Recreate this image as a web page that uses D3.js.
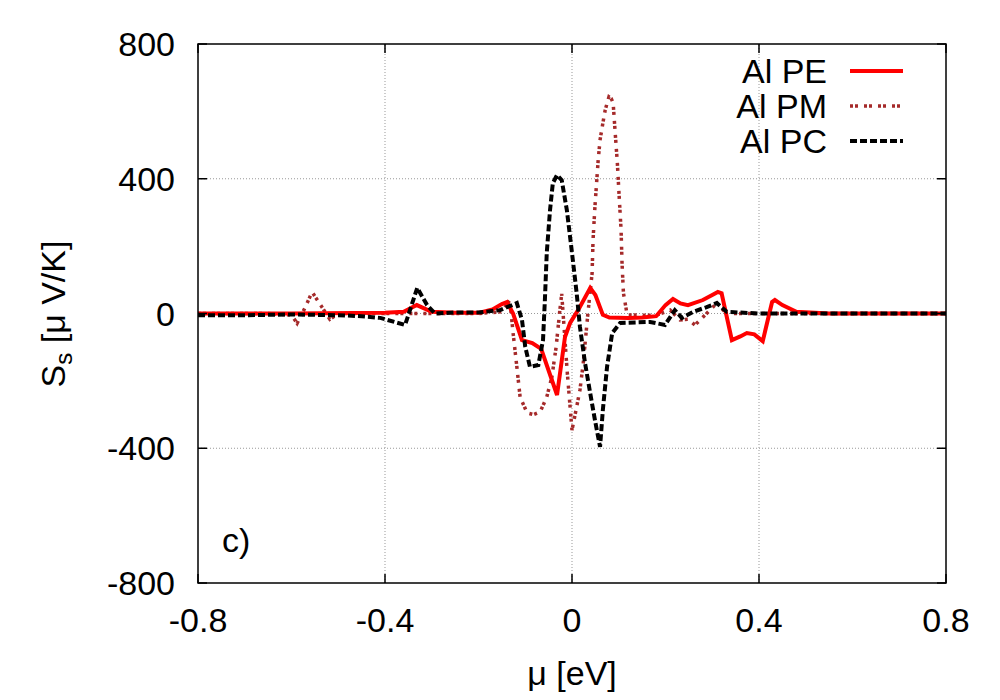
<!DOCTYPE html>
<html>
<head>
<meta charset="utf-8">
<script src="https://d3js.org/d3.v7.min.js"></script>
<style>
  body { margin: 0; background: #fff; }
  text { font-family: "Liberation Sans", Arial, sans-serif; fill: #000; }
</style>
</head>
<body>
<div id="chart"></div>
<script>
// tick values
const xTicks = [-0.8, -0.4, 0, 0.4, 0.8];
const yTicks = [-800, -400, 0, 400, 800];
const xTickLabels = ["-0.8", "-0.4", "0", "0.4", "0.8"];
const yTickLabels = ["-800", "-400", "0", "400", "800"];

// Al PE
const peMu = [-0.80, -0.60, -0.40, -0.36, -0.332, -0.30, -0.25, -0.20, -0.17, -0.15, -0.139, -0.126, -0.107, -0.085, -0.066,
  -0.032, -0.015, -0.004, 0.013, 0.025, 0.039, 0.05, 0.066, 0.08, 0.12, 0.15, 0.18, 0.20, 0.216, 0.232, 0.248, 0.28, 0.30,
  0.312, 0.32, 0.342, 0.36, 0.374, 0.39, 0.408, 0.428, 0.434, 0.45, 0.48, 0.55, 0.65, 0.80];
const peVal = [0, 0, 2, 5, 25, 5, 2, 2, 12, 28, 34, 0, -79, -88, -105,
  -242, -70, -28, 10, 40, 76, 55, -4, -12, -13, -12, -8, 25, 43, 30, 25, 40, 55,
  64, 60, -79, -68, -58, -62, -82, 34, 40, 25, 5, 0, 0, 0];

// Al PM
const pmMu = [-0.80, -0.65, -0.60, -0.588, -0.57, -0.556, -0.54, -0.518, -0.50, -0.45, -0.40, -0.30, -0.20, -0.15, -0.133,
  -0.126, -0.118, -0.111, -0.096, -0.082, -0.068, -0.054, -0.043, -0.034, -0.026, -0.022, -0.01, 0.0, 0.01, 0.017, 0.024,
  0.034, 0.043, 0.045, 0.049, 0.056, 0.060, 0.066, 0.071, 0.079, 0.084, 0.088, 0.092, 0.097, 0.101, 0.105, 0.107, 0.110,
  0.118, 0.15, 0.18, 0.21, 0.231, 0.248, 0.263, 0.288, 0.31, 0.33, 0.40, 0.60, 0.80];
const pmVal = [0, 0, -5, -29, 20, 64, 30, -17, 0, 0, 0, 0, 0, 5, 40,
  -58, -158, -248, -295, -300, -292, -248, -188, -100, 10, 58, -177, -346, -277, -227, -148,
  0, 120, 218, 316, 455, 515, 565, 604, 643, 638, 625, 544, 447, 345, 247, 150, 61,
  -4, -5, -5, 10, -19, -17, -34, 0, 31, 0, 0, 0, 0];

// Al PC
const pcMu = [-0.80, -0.70, -0.60, -0.50, -0.45, -0.41, -0.357, -0.331, -0.31, -0.293, -0.25, -0.20, -0.154, -0.118, -0.107,
  -0.10, -0.09, -0.072, -0.062, -0.058, -0.054, -0.047, -0.041, -0.032, -0.022, -0.011, 0.0, 0.01, 0.017, 0.028, 0.039,
  0.049, 0.06, 0.066, 0.075, 0.086, 0.103, 0.167, 0.199, 0.22, 0.235, 0.259, 0.288, 0.31, 0.331, 0.40, 0.60, 0.80];
const pcVal = [-5, -5, -3, -5, -8, -13, -34, 76, 25, 0, 3, 3, 10, 31, -19,
  -99, -158, -153, -79, 40, 180, 307, 387, 411, 396, 307, 180, 60, -40, -148, -237,
  -316, -396, -286, -158, -58, -28, -25, -34, 10, -13, 5, 19, 31, 5, 0, 0, 0];

const seriesNames = ["Al PE", "Al PM", "Al PC"];

const width = 1000, height = 700;
const margin = { left: 198, right: 54, top: 44, bottom: 117 };
const fontSize = 34;

const svg = d3.select("#chart").append("svg")
  .attr("width", width)
  .attr("height", height);

const x = d3.scaleLinear().domain([-0.8, 0.8]).range([margin.left, width - margin.right]);
const y = d3.scaleLinear().domain([-800, 800]).range([height - margin.bottom, margin.top]);

// grid
const grid = svg.append("g")
  .attr("stroke", "#999")
  .attr("stroke-width", 1)
  .attr("stroke-dasharray", "1,2");
grid.selectAll("line.gx").data(xTicks.slice(1, -1)).enter().append("line")
  .attr("x1", d => x(d)).attr("x2", d => x(d))
  .attr("y1", y(-800)).attr("y2", y(800));
grid.selectAll("line.gy").data(yTicks.slice(1, -1)).enter().append("line")
  .attr("x1", x(-0.8)).attr("x2", x(0.8))
  .attr("y1", d => y(d)).attr("y2", d => y(d));

// curves
svg.append("clipPath").attr("id", "clip").append("rect")
  .attr("x", x(-0.8)).attr("y", y(800))
  .attr("width", x(0.8) - x(-0.8)).attr("height", y(-800) - y(800));

const line = d3.line().x(d => x(d[0])).y(d => y(d[1]));

const series = [
  { name: seriesNames[0], data: d3.zip(peMu, peVal), color: "#ff0000", w: 4, dash: null },
  { name: seriesNames[1], data: d3.zip(pmMu, pmVal), color: "#a52a2a", w: 3.5, dash: "3,2,3,6" },
  { name: seriesNames[2], data: d3.zip(pcMu, pcVal), color: "#000000", w: 4, dash: "7,3" }
];

const plot = svg.append("g").attr("clip-path", "url(#clip)");
// draw order: PM under, then PE, then PC on top
[series[1], series[0], series[2]].forEach(s => {
  plot.append("path")
    .attr("d", line(s.data))
    .attr("fill", "none")
    .attr("stroke", s.color)
    .attr("stroke-width", s.w)
    .attr("stroke-dasharray", s.dash)
    .attr("stroke-linejoin", "miter");
});

// frame
svg.append("rect")
  .attr("x", x(-0.8)).attr("y", y(800))
  .attr("width", x(0.8) - x(-0.8)).attr("height", y(-800) - y(800))
  .attr("fill", "none").attr("stroke", "#000").attr("stroke-width", 1.5);

// ticks (inward, mirrored)
const tl = 9;
const ticks = svg.append("g").attr("stroke", "#000").attr("stroke-width", 1.5);
xTicks.forEach(t => {
  ticks.append("line").attr("x1", x(t)).attr("x2", x(t)).attr("y1", y(-800)).attr("y2", y(-800) - tl);
  ticks.append("line").attr("x1", x(t)).attr("x2", x(t)).attr("y1", y(800)).attr("y2", y(800) + tl);
});
yTicks.forEach(t => {
  ticks.append("line").attr("x1", x(-0.8)).attr("x2", x(-0.8) + tl).attr("y1", y(t)).attr("y2", y(t));
  ticks.append("line").attr("x1", x(0.8)).attr("x2", x(0.8) - tl).attr("y1", y(t)).attr("y2", y(t));
});

// tick labels
svg.selectAll("text.xt").data(xTicks).enter().append("text")
  .attr("x", d => x(d)).attr("y", 632)
  .attr("text-anchor", "middle")
  .style("font-size", fontSize + "px")
  .text((d, i) => xTickLabels[i]);
svg.selectAll("text.yt").data(yTicks).enter().append("text")
  .attr("x", 175).attr("y", d => y(d) + 12)
  .attr("text-anchor", "end")
  .style("font-size", fontSize + "px")
  .text((d, i) => yTickLabels[i]);

// axis labels
svg.append("text")
  .attr("x", x(0)).attr("y", 685)
  .attr("text-anchor", "middle")
  .style("font-size", fontSize + "px")
  .text("μ [eV]");

const yl = svg.append("text")
  .attr("transform", "translate(65," + 314 + ") rotate(-90)")
  .attr("text-anchor", "middle")
  .style("font-size", fontSize + "px");
yl.append("tspan").text("S");
yl.append("tspan").attr("dy", 7).style("font-size", "24px").text("s");
yl.append("tspan").attr("dy", -7).text(" [μ V/K]");

// panel label
svg.append("text")
  .attr("x", 222).attr("y", 552)
  .style("font-size", fontSize + "px")
  .text("c)");

// legend
const legY = [71, 106, 141];
series.forEach((s, i) => {
  svg.append("text")
    .attr("x", 827).attr("y", legY[i] + 12)
    .attr("text-anchor", "end")
    .style("font-size", fontSize + "px")
    .text(s.name);
  svg.append("line")
    .attr("x1", 850).attr("x2", 903)
    .attr("y1", legY[i]).attr("y2", legY[i])
    .attr("stroke", s.color)
    .attr("stroke-width", s.w)
    .attr("stroke-dasharray", s.dash);
});
</script>
</body>
</html>
